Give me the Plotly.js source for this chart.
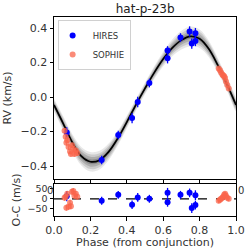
<!DOCTYPE html>
<html>
<head>
<meta charset="utf-8">
<script src="https://cdn.plot.ly/plotly-3.0.1.min.js"></script>
<style>html,body{margin:0;padding:0;background:#fff;}#chart{width:249px;height:249px;}</style>
</head>
<body>
<div id="chart"></div>
<script>
// Model curve
var modelPhase = [0.00,0.05,0.10,0.15,0.20,0.25,0.30,0.35,0.40,0.45,0.50,0.55,0.60,0.65,0.70,0.75,0.80,0.85,0.90,0.95,1.00];
var modelRV    = [-0.046,-0.152,-0.262,-0.343,-0.375,-0.366,-0.318,-0.240,-0.145,-0.045,0.050,0.140,0.220,0.285,0.330,0.352,0.338,0.280,0.185,0.075,-0.046];
var bandHalf   = [0.036,0.042,0.048,0.054,0.057,0.054,0.048,0.042,0.037,0.034,0.034,0.037,0.042,0.048,0.054,0.057,0.054,0.048,0.042,0.037,0.036];

// HIRES
var hiresPhase = [0.070,0.262,0.353,0.429,0.460,0.524,0.624,0.624,0.695,0.745,0.757,0.777,0.777];
var hiresRV    = [-0.205,-0.365,-0.220,-0.122,-0.029,0.081,0.270,0.225,0.345,0.380,0.310,0.370,0.325];
var hiresRVerr = [0.030,0.025,0.025,0.030,0.030,0.025,0.025,0.030,0.025,0.030,0.030,0.030,0.030];
var hiresRes   = [13,-10,20,-30,7,0,30,-18,20,30,-47,18,-32];
var hiresResErr= [25,20,20,22,22,20,25,22,20,22,25,25,22];

// SOPHIE
var sophiePhase = [0.058,0.064,0.068,0.073,0.080,0.088,0.093,0.099,0.106,0.112,0.120,0.128,
                   0.905,0.912,0.918,0.925,0.930,0.935,0.940,0.945,0.952,0.960];
var sophieRV    = [-0.195,-0.230,-0.265,-0.250,-0.290,-0.315,-0.330,-0.280,-0.300,-0.330,-0.310,-0.325,
                   0.165,0.155,0.143,0.130,0.125,0.120,0.110,0.090,0.070,0.050];
var sophieRVerr = [0.015,0.015,0.015,0.015,0.015,0.015,0.015,0.015,0.015,0.015,0.015,0.015,
                   0.012,0.012,0.012,0.012,0.012,0.012,0.012,0.012,0.012,0.012];
var sophieRes   = [5,10,-45,25,-40,-20,-38,35,40,15,25,10,
                   -10,-5,0,5,10,20,25,15,5,0];
var sophieResErr= [15,15,15,15,15,15,15,15,15,15,15,15,
                   12,12,12,12,12,12,12,12,12,12];

var yTickVals = [-0.4,-0.2,0.0,0.2,0.4];
var resTickVals = [-50,0,50];
var xTickVals = [0,0.2,0.4,0.6,0.8,1.0];

var blue = 'rgb(0,0,255)';
var salmon = 'rgba(250,100,75,0.75)';

var traces = [];
var levels = [1.0, 0.75, 0.5, 0.25];
var alphas = [0.09, 0.12, 0.15, 0.18];
levels.forEach(function(f, k){
  var xs = modelPhase.concat(modelPhase.slice().reverse());
  var up = modelRV.map(function(v,i){return v + f*bandHalf[i];});
  var lo = modelRV.map(function(v,i){return v - f*bandHalf[i];}).reverse();
  traces.push({x: xs, y: up.concat(lo), type:'scatter', mode:'lines', fill:'toself',
    fillcolor:'rgba(0,0,0,'+alphas[k]+')', line:{width:0, shape:'spline'}, showlegend:false,
    hoverinfo:'skip', xaxis:'x', yaxis:'y'});
});
traces.push({x: modelPhase, y: modelRV, type:'scatter', mode:'lines',
  line:{color:'black', width:1.7, shape:'spline'}, showlegend:false, xaxis:'x', yaxis:'y'});

traces.push({x: hiresPhase, y: hiresRV, type:'scatter', mode:'markers', name:'HIRES',
  marker:{color:blue, size:6}, error_y:{type:'data', array:hiresRVerr, color:blue, thickness:1.3, width:0},
  xaxis:'x', yaxis:'y'});
traces.push({x: sophiePhase, y: sophieRV, type:'scatter', mode:'markers', name:'SOPHIE',
  marker:{color:salmon, size:6}, error_y:{type:'data', array:sophieRVerr, color:salmon, thickness:1.3, width:0},
  xaxis:'x', yaxis:'y'});

// residual panel
traces.push({x:[0,1], y:[0,0], type:'scatter', mode:'lines', line:{color:'black', width:1.2, dash:'dash'},
  showlegend:false, xaxis:'x2', yaxis:'y2'});
traces.push({x: hiresPhase, y: hiresRes, type:'scatter', mode:'markers', showlegend:false,
  marker:{color:blue, size:6}, error_y:{type:'data', array:hiresResErr, color:blue, thickness:1.3, width:0},
  xaxis:'x2', yaxis:'y2'});
traces.push({x: sophiePhase, y: sophieRes, type:'scatter', mode:'markers', showlegend:false,
  marker:{color:salmon, size:6}, error_y:{type:'data', array:sophieResErr, color:salmon, thickness:1.3, width:0},
  xaxis:'x2', yaxis:'y2'});

var font = {family:'DejaVu Sans', size:11, color:'black'};
var axBase = {showline:true, linecolor:'black', linewidth:1, mirror:true, ticks:'outside', ticklen:3.5,
  tickcolor:'black', tickwidth:1, showgrid:false, zeroline:false, tickfont:{family:'DejaVu Sans', size:11, color:'#333'}};

var layout = {
  width:249, height:249,
  margin:{l:54, r:13, t:17, b:33},
  paper_bgcolor:'white', plot_bgcolor:'white',
  font: font,
  title:{text:'hat-p-23b', x:0.583, xanchor:'center', y:0.965, yanchor:'middle', font:{family:'DejaVu Sans', size:12, color:'#222'}},
  showlegend:true,
  legend:{x:0.02, y:0.985, xanchor:'left', yanchor:'top', bgcolor:'rgba(255,255,255,0.8)',
    bordercolor:'#d0d0d0', borderwidth:1, font:{family:'DejaVu Sans', size:8.5, color:'#333'},
    itemwidth:30, tracegroupgap:0, indentation:-6},
  xaxis: Object.assign({}, axBase, {domain:[0,1], range:[0,1], anchor:'y', tickvals:xTickVals, showticklabels:false}),
  yaxis: Object.assign({}, axBase, {domain:[0.186,1], range:[-0.475,0.464], anchor:'x', tickvals:yTickVals,
    tickformat:'.1f', title:{text:'RV (km/s)', font:{family:'DejaVu Sans', size:11, color:'#333'}, standoff:6}}),
  xaxis2: Object.assign({}, axBase, {domain:[0,1], range:[0,1], anchor:'y2', tickvals:xTickVals, tickformat:'.1f',
    title:{text:'Phase (from conjunction)', font:{family:'DejaVu Sans', size:11, color:'#333'}, standoff:2}}),
  yaxis2: Object.assign({}, axBase, {domain:[0,0.161], range:[-87,75], anchor:'x2', tickvals:resTickVals,
    tickfont:{family:'DejaVu Sans', size:9.5, color:'#333'},
    title:{text:'O-C (m/s)', font:{family:'DejaVu Sans', size:11, color:'#333'}, standoff:4}}),
  annotations:[
    {text:'0', xref:'paper', yref:'paper', x:-0.022, y:0.13, showarrow:false, xanchor:'center', yanchor:'middle', font:{family:'DejaVu Sans', size:10, color:'#333'}},
    {text:'0', xref:'paper', yref:'paper', x:1.027, y:0.13, showarrow:false, xanchor:'center', yanchor:'middle', font:{family:'DejaVu Sans', size:10, color:'#333'}}
  ]
};

Plotly.newPlot('chart', traces, layout, {staticPlot:true, displayModeBar:false});
</script>
</body>
</html>
